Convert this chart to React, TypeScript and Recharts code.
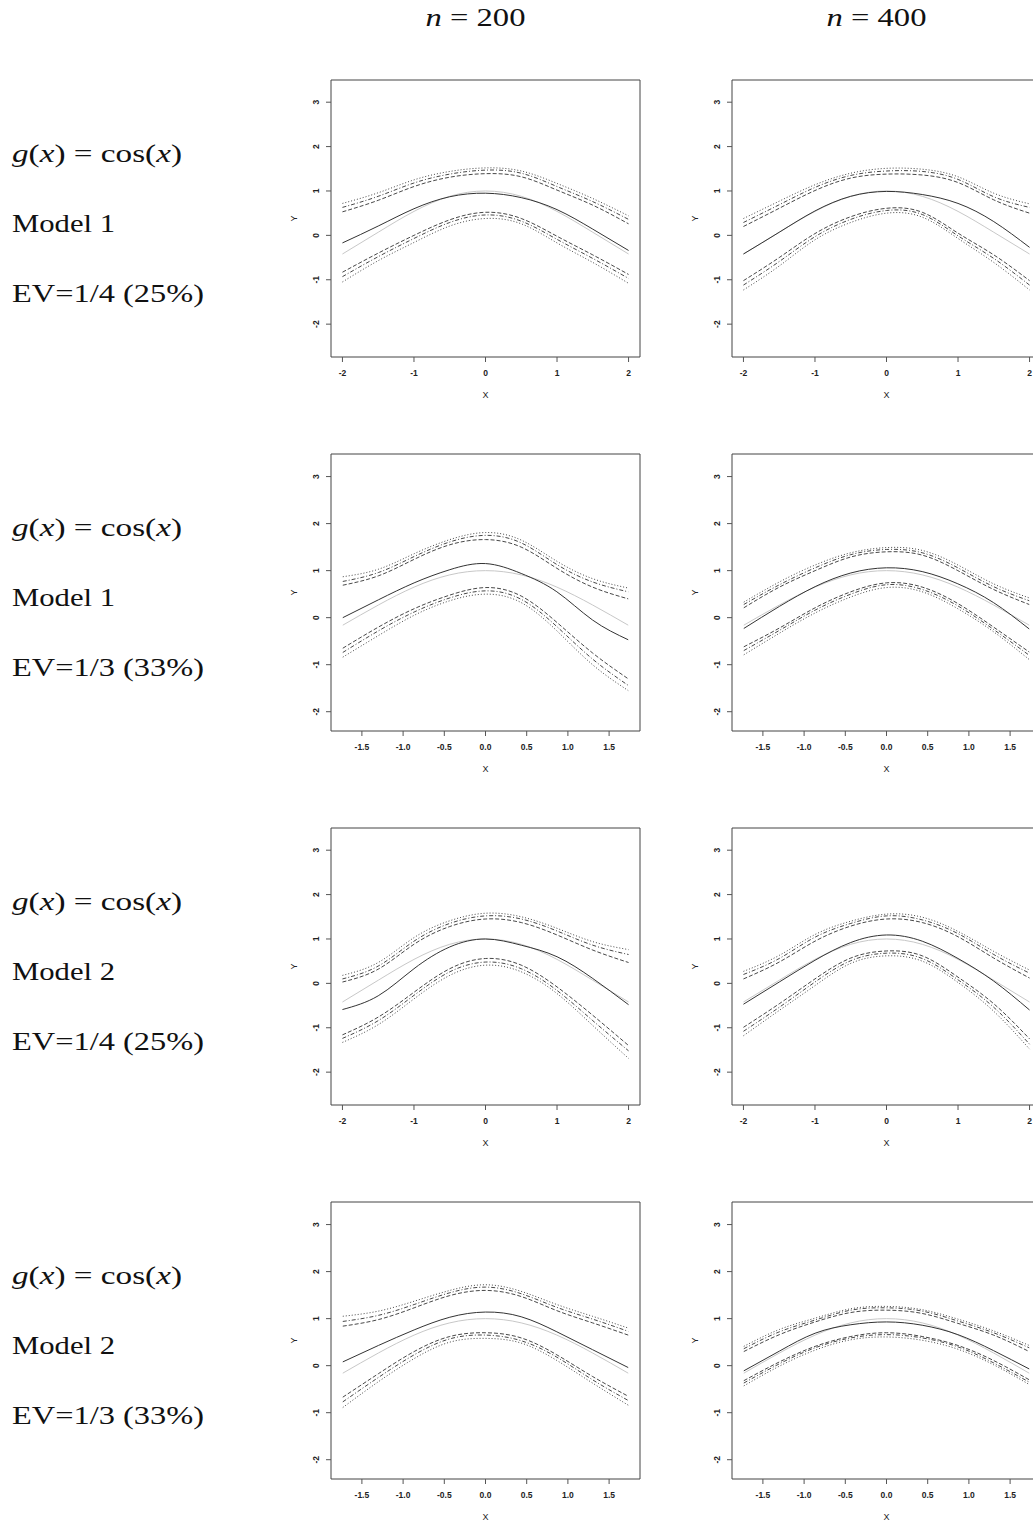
import React from 'react';
import { LineChart, Line, XAxis, YAxis, ReferenceArea } from 'recharts';

// ---------- axes / categories ----------
const X_WIDE = [-2, -1.5, -1, -0.5, 0, 0.5, 1, 1.5, 2];
const X_NARROW = [-1.732, -1.299, -0.866, -0.433, 0, 0.433, 0.866, 1.299, 1.732];
const TICKS_WIDE = [-2, -1, 0, 1, 2];
const TICKS_NARROW = [-1.5, -1, -0.5, 0, 0.5, 1, 1.5];
const Y_TICKS = [-2, -1, 0, 1, 2, 3];
const XDOM_WIDE = [-2.16, 2.16];
const XDOM_NARROW = [-1.875, 1.875];
const YDOM_WIDE = [-2.74, 3.5];
const YDOM_NARROW = [-2.41, 3.48];

const COL_HEADERS = ['n = 200', 'n = 400'];
const ROW_MODELS = ['Model 1', 'Model 1', 'Model 2', 'Model 2'];
const ROW_EV = ['EV=1/4 (25%)', 'EV=1/3 (33%)', 'EV=1/4 (25%)', 'EV=1/3 (33%)'];

// ---------- true curve g(x) = cos(x) read at the grid ----------
const TRUTH_WIDE = [-0.42, 0.07, 0.54, 0.88, 1.0, 0.88, 0.54, 0.07, -0.42];
const TRUTH_NARROW = [-0.16, 0.27, 0.65, 0.91, 1.0, 0.91, 0.65, 0.27, -0.16];

// ---------- row 1, n = 200 ----------
const R1C1_EST = [-0.17, 0.21, 0.6, 0.87, 0.95, 0.85, 0.58, 0.14, -0.34];
const R1C1_U1 = [0.72, 0.96, 1.25, 1.44, 1.52, 1.45, 1.17, 0.83, 0.44];
const R1C1_U2 = [0.63, 0.88, 1.18, 1.38, 1.47, 1.4, 1.1, 0.76, 0.36];
const R1C1_U3 = [0.53, 0.79, 1.1, 1.31, 1.39, 1.32, 1.02, 0.68, 0.26];
const R1C1_L1 = [-0.83, -0.4, 0.0, 0.35, 0.52, 0.38, -0.02, -0.44, -0.88];
const R1C1_L2 = [-0.93, -0.48, -0.07, 0.29, 0.46, 0.32, -0.09, -0.52, -0.97];
const R1C1_L3 = [-1.05, -0.57, -0.16, 0.21, 0.38, 0.26, -0.17, -0.61, -1.08];
// ---------- row 1, n = 400 ----------
const R1C2_EST = [-0.42, 0.07, 0.55, 0.88, 0.99, 0.92, 0.72, 0.31, -0.27];
const R1C2_U1 = [0.38, 0.77, 1.14, 1.4, 1.51, 1.49, 1.32, 0.95, 0.71];
const R1C2_U2 = [0.29, 0.69, 1.08, 1.35, 1.45, 1.44, 1.26, 0.87, 0.63];
const R1C2_U3 = [0.2, 0.61, 1.01, 1.29, 1.38, 1.36, 1.19, 0.8, 0.5];
const R1C2_L1 = [-1.02, -0.5, 0.04, 0.42, 0.61, 0.52, 0.05, -0.44, -1.02];
const R1C2_L2 = [-1.12, -0.59, -0.03, 0.36, 0.56, 0.47, -0.01, -0.52, -1.12];
const R1C2_L3 = [-1.23, -0.69, -0.1, 0.29, 0.5, 0.41, -0.07, -0.61, -1.23];
// ---------- row 2, n = 200 ----------
const R2C1_EST = [0.0, 0.38, 0.74, 1.02, 1.15, 0.94, 0.55, -0.05, -0.47];
const R2C1_U1 = [0.87, 1.03, 1.36, 1.66, 1.81, 1.65, 1.2, 0.83, 0.63];
const R2C1_U2 = [0.77, 0.96, 1.3, 1.61, 1.75, 1.59, 1.13, 0.76, 0.55];
const R2C1_U3 = [0.69, 0.89, 1.24, 1.55, 1.66, 1.5, 1.05, 0.65, 0.4];
const R2C1_L1 = [-0.65, -0.2, 0.19, 0.48, 0.64, 0.46, -0.1, -0.75, -1.3];
const R2C1_L2 = [-0.74, -0.28, 0.12, 0.42, 0.57, 0.39, -0.19, -0.88, -1.44];
const R2C1_L3 = [-0.84, -0.38, 0.05, 0.36, 0.5, 0.32, -0.28, -1.0, -1.55];
// ---------- row 2, n = 400 ----------
const R2C2_EST = [-0.23, 0.24, 0.66, 0.95, 1.06, 0.98, 0.72, 0.32, -0.24];
const R2C2_U1 = [0.33, 0.76, 1.12, 1.38, 1.49, 1.43, 1.12, 0.72, 0.42];
const R2C2_U2 = [0.28, 0.7, 1.06, 1.34, 1.45, 1.38, 1.06, 0.66, 0.36];
const R2C2_U3 = [0.21, 0.65, 1.0, 1.29, 1.4, 1.33, 1.0, 0.6, 0.28];
const R2C2_L1 = [-0.62, -0.22, 0.21, 0.55, 0.74, 0.65, 0.3, -0.2, -0.73];
const R2C2_L2 = [-0.7, -0.27, 0.16, 0.5, 0.7, 0.6, 0.25, -0.25, -0.8];
const R2C2_L3 = [-0.79, -0.33, 0.1, 0.44, 0.64, 0.55, 0.19, -0.3, -0.89];
// ---------- row 3, n = 200 ----------
const R3C1_EST = [-0.59, -0.28, 0.33, 0.82, 1.0, 0.86, 0.6, 0.11, -0.48];
const R3C1_U1 = [0.18, 0.47, 1.03, 1.41, 1.58, 1.5, 1.24, 0.94, 0.76];
const R3C1_U2 = [0.1, 0.39, 0.95, 1.35, 1.52, 1.45, 1.18, 0.86, 0.65];
const R3C1_U3 = [0.03, 0.32, 0.88, 1.28, 1.45, 1.37, 1.09, 0.75, 0.47];
const R3C1_L1 = [-1.16, -0.76, -0.2, 0.33, 0.56, 0.41, -0.08, -0.72, -1.4];
const R3C1_L2 = [-1.24, -0.84, -0.27, 0.26, 0.48, 0.33, -0.16, -0.84, -1.52];
const R3C1_L3 = [-1.33, -0.93, -0.35, 0.18, 0.41, 0.26, -0.23, -0.95, -1.69];
// ---------- row 3, n = 400 ----------
const R3C2_EST = [-0.47, 0.03, 0.52, 0.92, 1.09, 0.95, 0.56, 0.05, -0.6];
const R3C2_U1 = [0.27, 0.63, 1.1, 1.4, 1.56, 1.49, 1.17, 0.72, 0.3];
const R3C2_U2 = [0.2, 0.56, 1.04, 1.35, 1.52, 1.43, 1.12, 0.65, 0.23];
const R3C2_U3 = [0.1, 0.48, 0.95, 1.29, 1.45, 1.37, 1.05, 0.57, 0.12];
const R3C2_L1 = [-0.99, -0.46, 0.1, 0.57, 0.73, 0.62, 0.14, -0.46, -1.25];
const R3C2_L2 = [-1.08, -0.54, 0.03, 0.51, 0.68, 0.56, 0.08, -0.54, -1.37];
const R3C2_L3 = [-1.18, -0.61, -0.05, 0.45, 0.62, 0.5, 0.02, -0.63, -1.48];
// ---------- row 4, n = 200 ----------
const R4C1_EST = [0.08, 0.43, 0.76, 1.03, 1.14, 1.04, 0.72, 0.34, -0.04];
const R4C1_U1 = [1.05, 1.16, 1.37, 1.6, 1.72, 1.58, 1.3, 1.05, 0.8];
const R4C1_U2 = [0.94, 1.07, 1.3, 1.55, 1.67, 1.53, 1.24, 0.99, 0.73];
const R4C1_U3 = [0.84, 0.98, 1.23, 1.49, 1.6, 1.47, 1.17, 0.91, 0.65];
const R4C1_L1 = [-0.67, -0.17, 0.3, 0.62, 0.7, 0.59, 0.23, -0.23, -0.65];
const R4C1_L2 = [-0.77, -0.25, 0.23, 0.57, 0.65, 0.53, 0.18, -0.3, -0.74];
const R4C1_L3 = [-0.89, -0.34, 0.15, 0.5, 0.58, 0.48, 0.11, -0.37, -0.84];
// ---------- row 4, n = 400 ----------
const R4C2_EST = [-0.11, 0.31, 0.69, 0.87, 0.93, 0.86, 0.66, 0.32, -0.07];
const R4C2_U1 = [0.41, 0.77, 1.01, 1.21, 1.26, 1.19, 0.99, 0.74, 0.43];
const R4C2_U2 = [0.36, 0.72, 0.97, 1.18, 1.23, 1.16, 0.95, 0.7, 0.38];
const R4C2_U3 = [0.3, 0.66, 0.93, 1.13, 1.18, 1.11, 0.9, 0.65, 0.3];
const R4C2_L1 = [-0.32, 0.08, 0.41, 0.62, 0.7, 0.62, 0.43, 0.11, -0.3];
const R4C2_L2 = [-0.37, 0.04, 0.38, 0.59, 0.66, 0.59, 0.4, 0.06, -0.35];
const R4C2_L3 = [-0.43, -0.01, 0.33, 0.55, 0.61, 0.54, 0.35, 0.02, -0.4];

type PanelDef = {
  row: number;
  col: number;
  wide: boolean;
  est: number[];
  up: number[][];
  lo: number[][];
};

const PANELS: PanelDef[] = [
  { row: 0, col: 0, wide: true, est: R1C1_EST, up: [R1C1_U1, R1C1_U2, R1C1_U3], lo: [R1C1_L1, R1C1_L2, R1C1_L3] },
  { row: 0, col: 1, wide: true, est: R1C2_EST, up: [R1C2_U1, R1C2_U2, R1C2_U3], lo: [R1C2_L1, R1C2_L2, R1C2_L3] },
  { row: 1, col: 0, wide: false, est: R2C1_EST, up: [R2C1_U1, R2C1_U2, R2C1_U3], lo: [R2C1_L1, R2C1_L2, R2C1_L3] },
  { row: 1, col: 1, wide: false, est: R2C2_EST, up: [R2C2_U1, R2C2_U2, R2C2_U3], lo: [R2C2_L1, R2C2_L2, R2C2_L3] },
  { row: 2, col: 0, wide: true, est: R3C1_EST, up: [R3C1_U1, R3C1_U2, R3C1_U3], lo: [R3C1_L1, R3C1_L2, R3C1_L3] },
  { row: 2, col: 1, wide: true, est: R3C2_EST, up: [R3C2_U1, R3C2_U2, R3C2_U3], lo: [R3C2_L1, R3C2_L2, R3C2_L3] },
  { row: 3, col: 0, wide: false, est: R4C1_EST, up: [R4C1_U1, R4C1_U2, R4C1_U3], lo: [R4C1_L1, R4C1_L2, R4C1_L3] },
  { row: 3, col: 1, wide: false, est: R4C2_EST, up: [R4C2_U1, R4C2_U2, R4C2_U3], lo: [R4C2_L1, R4C2_L2, R4C2_L3] },
];

// ---------- layout ----------
const BOX_LEFT = [331, 732];
const BOX_TOP0 = 80;
const ROW_STEP = 374;
const BOX_W = 309;
const BOX_H = 277;
const PAD_L = 50;
const PAD_T = 10;
const PAD_R = 10;
const PAD_B = 50;

const TICK_FONT = 'Liberation Sans, Arial, Helvetica, sans-serif';
const TEXT_FONT = 'Liberation Serif, Times New Roman, serif';

const BAND_DASH = ['1 2', '4 2 1 2', '4 2'];
const LOW_DASH = ['4 2', '4 2 1 2', '1 2'];

const YTick = (props: any) => {
  const { x, y, payload } = props;
  return (
    <text
      x={x}
      y={y}
      transform={`rotate(-90, ${x}, ${y})`}
      textAnchor="middle"
      dominantBaseline="central"
      fontSize={8.5}
      fontWeight="bold"
      fontFamily={TICK_FONT}
      fill="#222"
    >
      {String(payload.value)}
    </text>
  );
};

const makeXTick = (wide: boolean) => (props: any) => {
  const { x, y, payload } = props;
  const v = Number(payload.value);
  const label = wide ? String(v) : v.toFixed(1);
  return (
    <text
      x={x}
      y={y}
      textAnchor="middle"
      dominantBaseline="central"
      fontSize={8.5}
      fontWeight="bold"
      fontFamily={TICK_FONT}
      fill="#222"
    >
      {label}
    </text>
  );
};

const Panel = ({ p }: { p: PanelDef }) => {
  const xs = p.wide ? X_WIDE : X_NARROW;
  const truth = p.wide ? TRUTH_WIDE : TRUTH_NARROW;
  const xdom = p.wide ? XDOM_WIDE : XDOM_NARROW;
  const ydom = p.wide ? YDOM_WIDE : YDOM_NARROW;
  const ticks = p.wide ? TICKS_WIDE : TICKS_NARROW;
  const data = xs.map((x, i) => ({
    x,
    truth: truth[i],
    est: p.est[i],
    u1: p.up[0][i],
    u2: p.up[1][i],
    u3: p.up[2][i],
    l1: p.lo[0][i],
    l2: p.lo[1][i],
    l3: p.lo[2][i],
  }));
  const left = BOX_LEFT[p.col] - PAD_L;
  const top = BOX_TOP0 + p.row * ROW_STEP - PAD_T;
  return (
    <div style={{ position: 'absolute', left, top }}>
      <LineChart
        width={BOX_W + PAD_L + PAD_R}
        height={BOX_H + PAD_T + PAD_B}
        data={data}
        margin={{ top: PAD_T, right: PAD_R, left: 0, bottom: 0 }}
      >
        <XAxis
          dataKey="x"
          type="number"
          domain={xdom}
          ticks={ticks}
          interval={0}
          allowDataOverflow
          axisLine={false}
          tickLine={{ stroke: '#555' }}
          tickSize={5}
          tickMargin={11}
          height={PAD_B}
          tick={makeXTick(p.wide)}
        />
        <YAxis
          type="number"
          domain={ydom}
          ticks={Y_TICKS}
          interval={0}
          allowDataOverflow
          axisLine={false}
          tickLine={{ stroke: '#555' }}
          tickSize={5}
          tickMargin={10}
          width={PAD_L}
          tick={YTick}
        />
        <ReferenceArea
          x1={xdom[0]}
          x2={xdom[1]}
          y1={ydom[0]}
          y2={ydom[1]}
          fill="none"
          fillOpacity={0}
          stroke="#444"
          strokeWidth={1}
        />
        <Line dataKey="truth" type="natural" stroke="#c8c8c8" strokeWidth={1} dot={false} isAnimationActive={false} />
        <Line dataKey="est" type="natural" stroke="#333" strokeWidth={1} dot={false} isAnimationActive={false} />
        <Line dataKey="u1" type="natural" stroke="#333" strokeWidth={0.9} strokeDasharray={BAND_DASH[0]} dot={false} isAnimationActive={false} />
        <Line dataKey="u2" type="natural" stroke="#333" strokeWidth={0.9} strokeDasharray={BAND_DASH[1]} dot={false} isAnimationActive={false} />
        <Line dataKey="u3" type="natural" stroke="#333" strokeWidth={0.9} strokeDasharray={BAND_DASH[2]} dot={false} isAnimationActive={false} />
        <Line dataKey="l1" type="natural" stroke="#333" strokeWidth={0.9} strokeDasharray={LOW_DASH[0]} dot={false} isAnimationActive={false} />
        <Line dataKey="l2" type="natural" stroke="#333" strokeWidth={0.9} strokeDasharray={LOW_DASH[1]} dot={false} isAnimationActive={false} />
        <Line dataKey="l3" type="natural" stroke="#333" strokeWidth={0.9} strokeDasharray={LOW_DASH[2]} dot={false} isAnimationActive={false} />
      </LineChart>
    </div>
  );
};

const Texts = () => {
  const items: React.ReactNode[] = [];
  COL_HEADERS.forEach((h, c) => {
    const cx = BOX_LEFT[c] + BOX_W / 2 - 10;
    const parts = h.split(' ');
    items.push(
      <text key={`h${c}`} x={cx} y={26} textAnchor="middle" fontFamily={TEXT_FONT} fontSize={26} fill="#111" textLength={100} lengthAdjust="spacingAndGlyphs">
        <tspan fontStyle="italic">{parts[0]}</tspan>
        <tspan> = {parts[2]}</tspan>
      </text>
    );
  });
  ROW_MODELS.forEach((m, r) => {
    const off = r * ROW_STEP;
    items.push(
      <text key={`g${r}`} x={12} y={162 + off} fontFamily={TEXT_FONT} fontSize={26} fill="#111" textLength={170} lengthAdjust="spacingAndGlyphs">
        <tspan fontStyle="italic">g</tspan>
        <tspan>(</tspan>
        <tspan fontStyle="italic">x</tspan>
        <tspan>) = cos(</tspan>
        <tspan fontStyle="italic">x</tspan>
        <tspan>)</tspan>
      </text>
    );
    items.push(
      <text key={`m${r}`} x={12} y={232 + off} fontFamily={TEXT_FONT} fontSize={26} fill="#111" textLength={103} lengthAdjust="spacingAndGlyphs">
        {m}
      </text>
    );
    items.push(
      <text key={`e${r}`} x={12} y={302 + off} fontFamily={TEXT_FONT} fontSize={26} fill="#111" textLength={192} lengthAdjust="spacingAndGlyphs">
        {ROW_EV[r]}
      </text>
    );
    [0, 1].forEach((c) => {
      const bl = BOX_LEFT[c];
      const bt = BOX_TOP0 + off;
      items.push(
        <text key={`x${r}${c}`} x={bl + BOX_W / 2} y={bt + BOX_H + 38} textAnchor="middle" dominantBaseline="central" fontFamily={TICK_FONT} fontSize={9} fill="#222">
          X
        </text>
      );
      const yx = bl - 37;
      const yy = bt + BOX_H / 2;
      items.push(
        <text key={`y${r}${c}`} x={yx} y={yy} transform={`rotate(-90, ${yx}, ${yy})`} textAnchor="middle" dominantBaseline="central" fontFamily={TICK_FONT} fontSize={9} fill="#222">
          Y
        </text>
      );
    });
  });
  return (
    <svg width={1033} height={1521} style={{ position: 'absolute', left: 0, top: 0, pointerEvents: 'none' }}>
      {items}
    </svg>
  );
};

export default function App() {
  return (
    <div
      style={{
        position: 'absolute',
        left: 0,
        top: 0,
        width: 1033,
        height: 1521,
        overflow: 'hidden',
        background: '#fff',
      }}
    >
      {PANELS.map((p, i) => (
        <Panel key={i} p={p} />
      ))}
      <Texts />
    </div>
  );
}
